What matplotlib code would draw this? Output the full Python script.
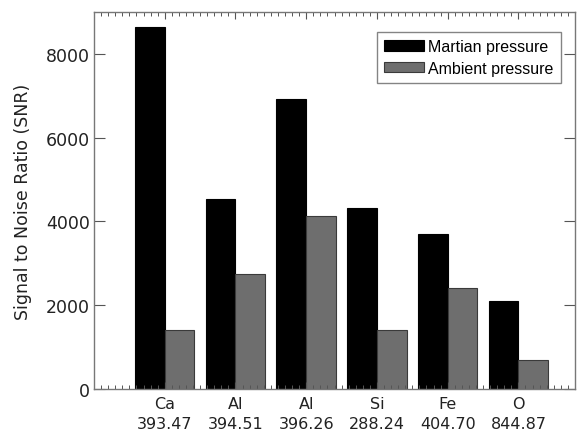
import matplotlib
matplotlib.use("Agg")
import matplotlib.pyplot as plt
import numpy as np
from matplotlib.ticker import MultipleLocator

elements = ["Ca", "Al", "Al", "Si", "Fe", "O"]
wavelengths = ["393.47", "394.51", "396.26", "288.24", "404.70", "844.87"]
martian = [8630, 4540, 6930, 4310, 3700, 2100]
ambient = [1410, 2740, 4130, 1410, 2400, 700]

plt.rcParams['font.family'] = ['DejaVu Sans']

fig = plt.figure(figsize=(5.77, 4.35), dpi=100)
ax = fig.add_axes([94/577, 45/435, (575-94)/577, (390-13)/435])

x = np.arange(1, len(elements) + 1)
w = 0.42
ax.bar(x - w/2, martian, width=w, color="black", edgecolor="black", linewidth=0.8,
       label="Martian pressure")
ax.bar(x + w/2, ambient, width=w, color="#6e6e6e", edgecolor="#3a3a3a", linewidth=0.8,
       label="Ambient pressure")

ax.set_xlim(0, 6.8)
ax.set_ylim(0, 9000)
ax.set_xticks(x)
ax.set_xticklabels([f"{e}\n{wl}" for e, wl in zip(elements, wavelengths)], fontsize=11.5,
                   color="#222222", linespacing=1.45)
ax.xaxis.set_minor_locator(MultipleLocator(0.1))
ax.set_yticks([0, 2000, 4000, 6000, 8000])
ax.tick_params(axis="y", labelsize=12.5, labelcolor="#222222")

ax.tick_params(axis="x", which="major", direction="in", top=True, bottom=True,
               length=5, width=0.8, color="#555555", pad=5)
ax.tick_params(axis="x", which="minor", direction="in", top=True, bottom=True,
               length=3, width=0.7, color="#555555")
ax.tick_params(axis="y", which="major", direction="in", left=True, right=True,
               length=8, width=0.8, color="#555555", pad=3)

for s in ax.spines.values():
    s.set_color("#777777")
    s.set_linewidth(1.0)

ax.set_ylabel("Signal to Noise Ratio (SNR)", fontsize=12.5, color="#222222", labelpad=10)

leg = ax.legend(loc="upper right", bbox_to_anchor=(0.971, 0.947),
                prop={"family": "Liberation Sans", "size": 11.5},
                fancybox=False, frameon=True, handlelength=2.5, handleheight=0.6,
                handletextpad=0.3, borderpad=0.45, labelspacing=0.4, borderaxespad=0)
leg.get_frame().set_edgecolor("#666666")
leg.get_frame().set_linewidth(1.0)

fig.savefig("out.png", dpi=100)
